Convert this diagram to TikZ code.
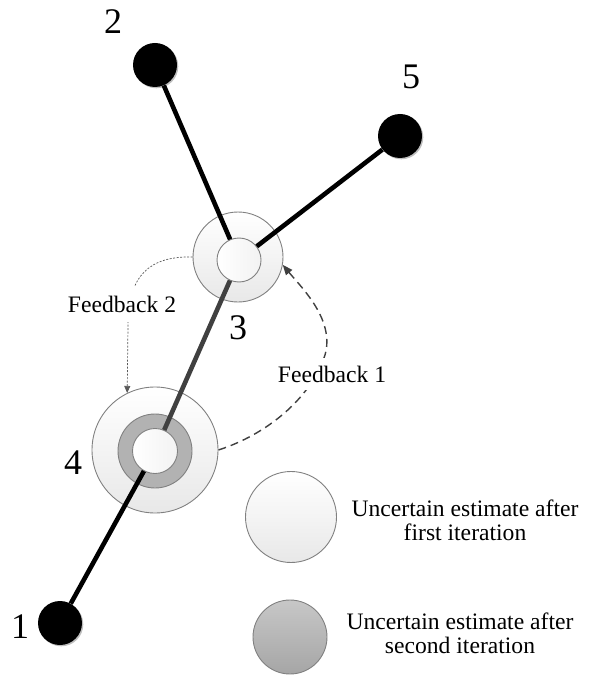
\documentclass[tikz,border=0pt]{standalone}
\usepackage{fontspec}
\setmainfont{Liberation Serif}
\usetikzlibrary{arrows.meta,shadows}
\definecolor{rimgray}{HTML}{808080}
\definecolor{darkline}{HTML}{404040}
\begin{document}
\begin{tikzpicture}[x=1pt,y=-1pt,
  blk/.style={circle,fill=black,inner sep=0pt,minimum size=44pt,
    drop shadow={shadow xshift=1.3pt,shadow yshift=-1.3pt,opacity=0.25,fill=black}},
  outerc/.style={circle,draw=rimgray,line width=0.9pt,inner sep=0pt,
    top color=white,bottom color=black!9},
  innerc/.style={circle,draw=rimgray,line width=0.9pt,inner sep=0pt,
    left color=white,right color=black!5},
  ringc/.style={circle,draw=rimgray,line width=0.9pt,inner sep=0pt,fill=black!30},
  legtwo/.style={circle,draw=rimgray,line width=0.9pt,inner sep=0pt,
    top color=black!22,bottom color=black!35},
  edge/.style={line width=4.6pt,black},
  numlab/.style={font=\fontsize{36}{40}\selectfont,inner sep=0pt},
  txt/.style={font=\fontsize{23.6}{24}\selectfont,inner sep=0pt},
  fbone/.style={line width=1.4pt,draw=darkline,dash pattern=on 8pt off 5pt,
    -{Triangle[length=10pt,width=8pt]}},
  fbtwo/.style={line width=0.7pt,draw=black!65,dash pattern=on 2pt off 1.5pt,
    -{Triangle[length=7pt,width=6pt]}}
]
\useasboundingbox (0,0) rectangle (593,676);

% outer circles
\node[outerc,minimum size=90pt] (n3o) at (238,257) {};
\node[innerc,minimum size=44pt] (n3) at (239,260) {};
\node[outerc,minimum size=126pt] (n4o) at (155,450) {};
\node[ringc,minimum size=74pt] (n4r) at (155,451) {};
\node[innerc,minimum size=45pt] (n4) at (155,451) {};

% black nodes
\node[blk] (n2) at (155,65) {};
\node[blk] (n5) at (400,136) {};
\node[blk] (n1) at (60,623) {};

% connectors
\draw[edge] (n2) -- (n3);
\draw[edge] (n5) -- (n3);
\draw[edge,draw=darkline] (n3) -- (n4);
\draw[edge] (n4) -- (n1);

% feedback 1
\draw[fbone] (n4o.east) .. controls (265,435) and (310,400) .. (325,355)
  .. controls (335,320) and (302,288) .. (n3o.-10);
\node[txt,fill=white,inner xsep=2pt,inner ysep=8pt] (fb1) at (332,374) {Feedback 1};

% feedback 2
\draw[fbtwo] (n3o.west) .. controls (150,256) and (128,275) .. (128,325) -- (n4o.116);
\node[txt,fill=white,inner xsep=2pt,inner ysep=10pt] (fb2) at (122,304) {Feedback 2};

% numbers
\node[numlab] (l2) at (113,22) {2};
\node[numlab] (l5) at (411,77) {5};
\node[numlab] (l3) at (238,328) {3};
\node[numlab] (l4) at (73,463) {4};
\node[numlab] (l1) at (20,627) {1};

% legend
\node[outerc,minimum size=91pt] (lg1) at (291,517) {};
\node[txt,align=center] (lt1) at (465,520) {Uncertain estimate after\\first iteration};
\node[legtwo,minimum size=74pt] (lg2) at (290,637) {};
\node[txt,align=center] (lt2) at (460,633) {Uncertain estimate after\\second iteration};
\end{tikzpicture}
\end{document}
